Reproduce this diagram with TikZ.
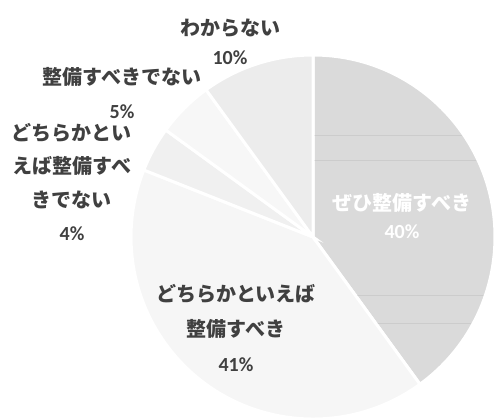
\documentclass[tikz,border=0pt]{standalone}
\usepackage{fontspec}
\setmainfont{Carlito}
\newfontfamily\jpfont{Noto Sans CJK JP}
\definecolor{slicemust}{RGB}{218,218,218}
\definecolor{sliceyes}{RGB}{246,246,246}
\definecolor{slicerno}{RGB}{240,240,240}
\definecolor{slicenot}{RGB}{247,247,247}
\definecolor{sliceunk}{RGB}{236,236,236}
\definecolor{lblgray}{RGB}{64,64,64}
\tikzset{every picture/.style={line width=0.75pt}}
\tikzset{
  slice/.style={draw=white, line width=2.25pt},
  lbl/.style={text=lblgray, align=center, inner sep=0pt, font=\bfseries\fontsize{15}{25}\selectfont}
}

\begin{document}
\begin{tikzpicture}[x=0.75pt,y=0.75pt,yscale=-1,xscale=1]
	\useasboundingbox (0,0) rectangle (497,419);
	\coordinate (ctr) at (313,237);

	%Pie Slice 40%
	\draw [slice, fill=slicemust] (ctr) -- ++(-90:182) arc (-90:54:182) -- cycle ;
	%Scan Lines
	\begin{scope}
		\clip (ctr) -- ++(-90:180) arc (-90:54:180) -- cycle ;
		\draw [color=black!20, line width=0.4pt] (313,135) -- (497,135) (313,160) -- (497,160) (313,295) -- (497,295) (313,323) -- (497,323) ;
	\end{scope}
	%Pie Slice 41%
	\draw [slice, fill=sliceyes] (ctr) -- ++(54:182) arc (54:201.6:182) -- cycle ;
	%Pie Slice 4%
	\draw [slice, fill=slicerno] (ctr) -- ++(201.6:182) arc (201.6:216:182) -- cycle ;
	%Pie Slice 5%
	\draw [slice, fill=slicenot] (ctr) -- ++(216:182) arc (216:234:182) -- cycle ;
	%Pie Slice 10%
	\draw [slice, fill=sliceunk] (ctr) -- ++(234:182) arc (234:270:182) -- cycle ;

	% Text Node
	\node [lbl, font=\bfseries\fontsize{15}{21}\selectfont, text=white] (must) at (402,216) {{\jpfont ぜひ整備すべき}\\40\%};
	% Text Node
	\node [lbl, font=\bfseries\fontsize{15}{26}\selectfont] (ratheryes) at (236,328) {{\jpfont どちらかといえば}\\{\jpfont 整備すべき}\\41\%};
	% Text Node
	\node [lbl] (ratherno) at (72,182) {{\jpfont どちらかとい}\\{\jpfont えば整備すべ}\\{\jpfont きでない}\\4\%};
	% Text Node
	\node [lbl] (notneed) at (122,93) {{\jpfont 整備すべきでない}\\5\%};
	% Text Node
	\node [lbl, font=\bfseries\fontsize{15}{22}\selectfont] (unknown) at (230,42) {{\jpfont わからない}\\10\%};

\end{tikzpicture}
\end{document}
